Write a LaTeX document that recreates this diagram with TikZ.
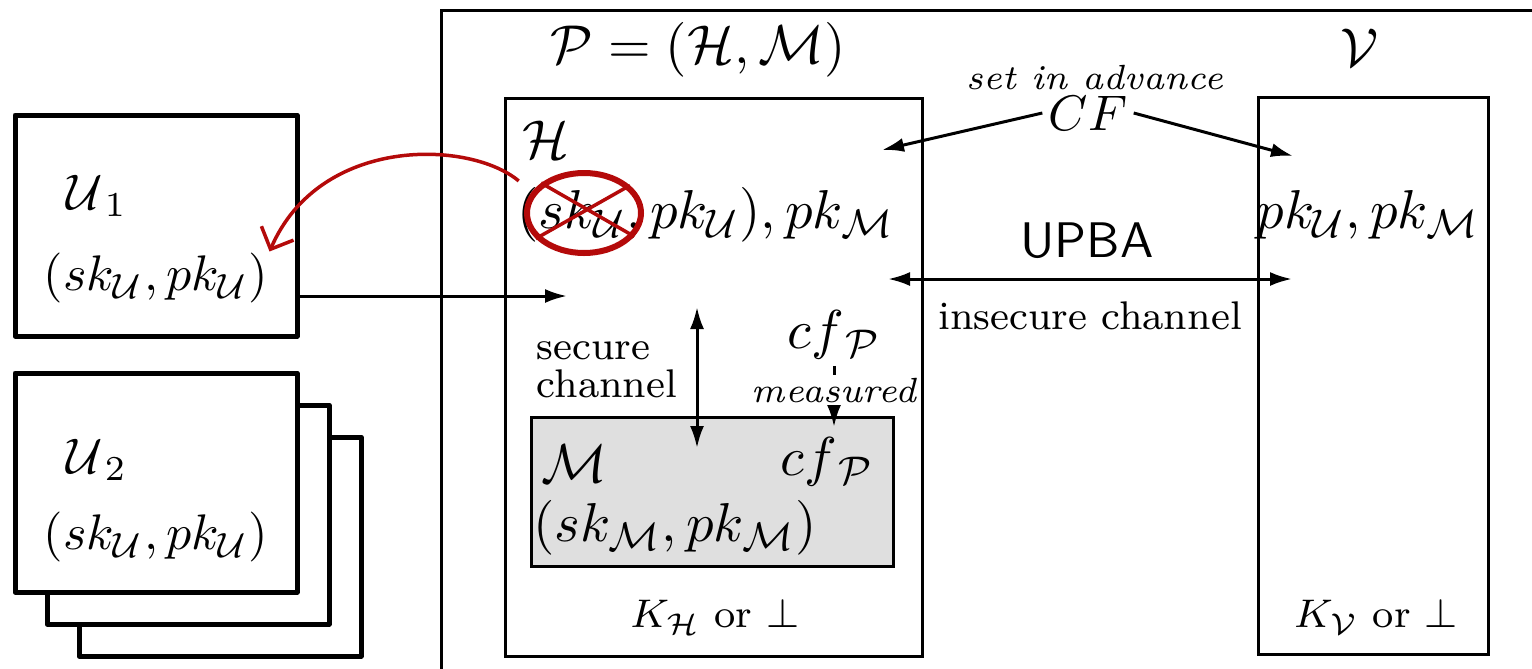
\documentclass[tikz,border=0pt]{standalone}
\usepackage{amsmath, amssymb}
\usetikzlibrary{arrows.meta, shapes.geometric}

\definecolor{xred}{RGB}{180,10,10}
\tikzset{
  mtxt/.style={font=\fontsize{11pt}{13.5pt}\selectfont},
  userbox/.style={line width=1pt, line join=round, fill=white},
  redarrow/.style={draw=xred, line width=0.7pt, shorten <=3.4pt,
                   -{Straight Barb[length=3.5pt,width=7pt]}},
}

\begin{document}
\begin{tikzpicture}[x=0.2pt, y=-0.2pt, semithick,
                    >={Latex[length=4.4pt,width=2.8pt]}]
  \useasboundingbox (0,0) rectangle (1532,668);
  \clip (0,0) rectangle (1532,668);
  %--- boxes ---
  \draw (441,10) rectangle (1600,720);
  \draw (505,98) rectangle (922,656);
  \draw (1258,97) rectangle (1488,654);
  \draw[fill=gray!25] (531,417) rectangle (893,566);
  \node[mtxt] (ptitle) at (698,50) {$\mathcal{P}=(\mathcal{H},\mathcal{M})$};
  \node[mtxt] (vtitle) at (1360,48) {$\mathcal{V}$};
  %--- users ---
  \draw[userbox] (15,115) rectangle (297,336);
  \foreach \d in {64,32,0}
    \draw[userbox] (15+\d,373+\d) rectangle (297+\d,592+\d);
  \node (u1name) at (97,196) {$\mathcal{U}_{\,1}$};
  \node[inner sep=0pt] (u1key) at (156,278) {$(sk_{\mathcal{U}},pk_{\mathcal{U}})$};
  \node (u2name) at (97,460) {$\mathcal{U}_{\,2}$};
  \node[inner sep=0pt] (u2key) at (156,537) {$(sk_{\mathcal{U}},pk_{\mathcal{U}})$};
  %--- host H ---
  \node[mtxt] (hname) at (546,140) {$\mathcal{H}$};
  \node[mtxt] (hkeys) at (706,215) {$(sk_{\mathcal{U}},pk_{\mathcal{U}}),pk_{\mathcal{M}}$};
  \node[mtxt, inner sep=1pt] (cfh) at (834,335) {$cf_{\,\mathcal{P}}$};
  \node[font=\footnotesize, align=left] (secch) at (607,370) {secure\\[-1.9pt]channel};
  \node[font=\footnotesize] (hout) at (715,617) {$K_{\mathcal{H}}$ or $\perp$};
  %--- module M ---
  \node[mtxt] (mname) at (574,464) {$\mathcal{M}$};
  \node[mtxt] (cfm) at (827,462) {$cf_{\,\mathcal{P}}$};
  \node[mtxt] (mkeys) at (675,528) {$(sk_{\mathcal{M}},pk_{\mathcal{M}})$};
  %--- verifier V ---
  \node[mtxt] (vkeys) at (1368,215) {$pk_{\mathcal{U}},pk_{\mathcal{M}}$};
  \node[font=\footnotesize] (vout) at (1376,617) {$K_{\mathcal{V}}$ or $\perp$};
  %--- CF and channel ---
  \node[inner sep=1pt] (cf) at (1088,113) {$CF$};
  \node[font=\scriptsize\itshape] (advance) at (1095,78) {set in advance};
  \node[font=\sffamily] (upba) at (1087,241) {UPBA};
  \node[font=\footnotesize] (insec) at (1090,316) {insecure channel};
  % arrow ends
  \coordinate (hcf) at (882,150);
  \coordinate (vcf) at (1293,156);
  \coordinate (hch) at (888,279);
  \coordinate (vch) at (1292,279);
  \coordinate (hmid) at (697,307);
  \coordinate (mmid) at (697,448);
  \coordinate (mtop) at (834,427);
  \coordinate (hin) at (567,296);
  \draw[->] (cf.west) -- (hcf);
  \draw[->] (cf.east) -- (vcf);
  \draw[<->] (hch) -- (vch);
  \draw[<->] (hmid) -- (mmid);
  \draw[->] (cfh) -- (mtop)
    node[pos=0.4, fill=white, inner sep=0.5pt, font=\scriptsize\itshape] {measured};
  \draw[->] (u1key.east) ++(27,18) -- (hin);
  %--- revoked user key ---
  \node[ellipse, draw=xred, line width=1.2pt, minimum width=22.8pt,
        minimum height=16pt, inner sep=0pt] (skx) at (584,213) {};
  \draw[xred, line width=0.7pt] (skx.145) -- (skx.-25) (skx.-152) -- (skx.31);
  \draw[redarrow] (skx.158) .. controls (470,140) and (320,135) .. (u1key.north east);
\end{tikzpicture}
\end{document}
